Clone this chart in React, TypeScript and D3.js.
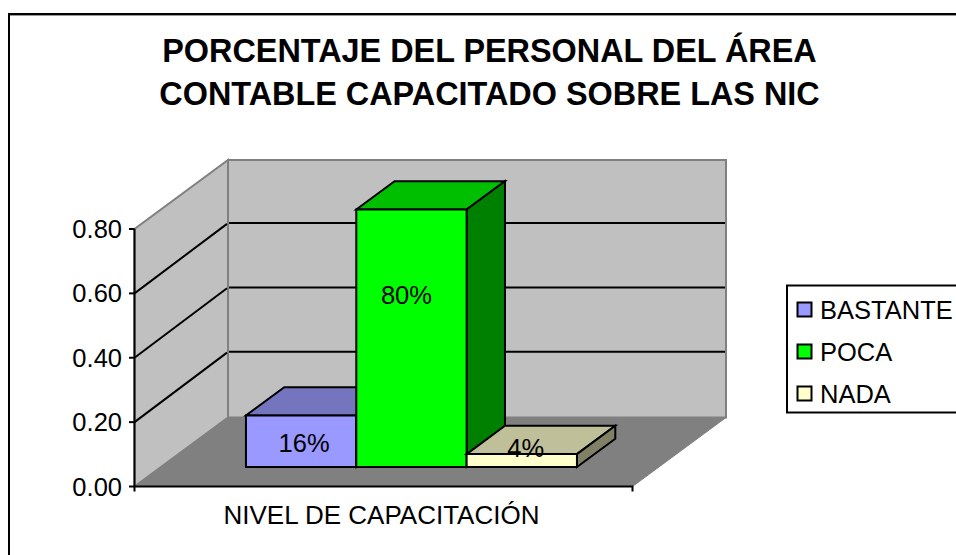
import React from "react";
import * as d3 from "d3";

const seriesNames = ["BASTANTE", "POCA", "NADA"];
const seriesValues = [0.16, 0.8, 0.04];
const valueLabels = ["16%", "80%", "4%"];
const yTicks = [0, 0.2, 0.4, 0.6, 0.8];
const titleLines = ["PORCENTAJE DEL PERSONAL DEL ÁREA", "CONTABLE CAPACITADO SOBRE LAS NIC"];
const categoryLabel = "NIVEL DE CAPACITACIÓN";
const frontColors = ["#9999FF", "#00FF00", "#FFFFCC"];
const topColors = ["#7575BF", "#00BF00", "#BFBF99"];
const sideColors = ["#4D4D80", "#008000", "#808066"];

const FONT = "'Liberation Sans', Arial, sans-serif";
const y = d3.scaleLinear().domain([0, 0.8]).range([486.5, 229]);
const plotX0 = 134.5, plotX1 = 632.5;
const depthX = 93.5, depthY = -69;
const barZ = 0.283, barDepth = 0.41;
const band = d3.scaleBand().domain(seriesNames).range([219.5, 550.5]);
const line = d3.line();
const proj = (x: number, v: number, z: number): [number, number] => [x + z * depthX, y(v) + z * depthY];
const poly = (pts: [number, number][]) => line(pts)! + "Z";
// label placement relative to the middle of each front face
const labelShift: [number, number][] = [[3, 2], [-5, -43], [4, -13]];

export default function App() {
  const v0 = 0, vTop = 0.8;
  const wallBack = poly([proj(plotX0, v0, 1), proj(plotX1, v0, 1), proj(plotX1, vTop, 1), proj(plotX0, vTop, 1)]);
  const wallSide = poly([proj(plotX0, v0, 0), proj(plotX0, v0, 1), proj(plotX0, vTop, 1), proj(plotX0, vTop, 0)]);
  const floor = poly([proj(plotX0, v0, 0), proj(plotX1, v0, 0), proj(plotX1, v0, 1), proj(plotX0, v0, 1)]);
  return (
    <svg width={956} height={555} style={{ position: "fixed", left: 0, top: 0, background: "#fff" }} fontFamily={FONT}>
      <path d="M956 15.5H9.5V555" fill="none" stroke="#999" strokeWidth={1} />
      <path d="M9 555V14H956" fill="none" stroke="#000" strokeWidth={2} />
      {titleLines.map((t, i) => (
        <text key={t} x={489.5} y={62 + i * 43} textAnchor="middle" fontSize={32.4} fontWeight="bold">{t}</text>
      ))}
      <path d={wallBack} fill="#C0C0C0" stroke="#808080" strokeWidth={2} />
      <path d={wallSide} fill="#C0C0C0" stroke="#808080" strokeWidth={2} />
      {yTicks.filter((t) => t > 0 && t < 0.8).map((t) => {
        const [bx, by] = proj(plotX0, t, 1);
        const [ex] = proj(plotX1, t, 1);
        return (
          <g key={t} fill="none" stroke="#000" strokeWidth={2}>
            <path d={line([proj(plotX0, t, 0), [bx - 1, by - 0.5]])!} />
            <path d={line([[bx + 1, by - 1.3], [ex - 1, by - 1.3]])!} />
          </g>
        );
      })}
      <path d={floor} fill="#808080" stroke="#808080" strokeWidth={1} />
      {seriesNames.map((name, i) => {
        const xL = band(name)!, xR = xL + band.bandwidth(), v = seriesValues[i];
        const a = proj(xL, 0, barZ), b = proj(xR, 0, barZ), c = proj(xR, v, barZ), d = proj(xL, v, barZ);
        const e = proj(xL, v, barZ + barDepth), f = proj(xR, v, barZ + barDepth), g = proj(xR, 0, barZ + barDepth);
        return (
          <g key={name} stroke="#000" strokeWidth={2} strokeLinejoin="miter">
            <path d={poly([d, c, f, e])} fill={topColors[i]} />
            <path d={poly([b, g, f, c])} fill={sideColors[i]} />
            <path d={poly([a, b, c, d])} fill={frontColors[i]} />
          </g>
        );
      })}
      {seriesNames.map((name, i) => {
        const xL = band(name)!, v = seriesValues[i];
        const p = proj(xL + band.bandwidth() / 2, v / 2, barZ);
        return (
          <text key={name} x={p[0] + labelShift[i][0]} y={p[1] + 9 + labelShift[i][1]} textAnchor="middle" fontSize={25.5}>{valueLabels[i]}</text>
        );
      })}
      <path d={`M134.5 ${y(0.8)}V${y(0) + 5}`} stroke="#000" strokeWidth={2} fill="none" />
      <path d={`M134.5 ${y(0)}H${plotX1}V${y(0) + 5}`} stroke="#000" strokeWidth={2} fill="none" />
      {yTicks.map((t) => (
        <g key={t}>
          <path d={`M129 ${y(t)}H134.5`} stroke="#000" strokeWidth={2} />
          <text x={122} y={y(t) + 9} textAnchor="end" fontSize={25.5}>{t.toFixed(2)}</text>
        </g>
      ))}
      <text x={381.5} y={524} textAnchor="middle" fontSize={26}>{categoryLabel}</text>
      <rect x={787} y={285.5} width={200} height={127} fill="#fff" stroke="#000" strokeWidth={2} />
      {seriesNames.map((name, i) => (
        <g key={name}>
          <rect x={797.5} y={302.5 + i * 42} width={14} height={14} fill={frontColors[i]} stroke="#000" strokeWidth={2} />
          <text x={820} y={318.5 + i * 42} fontSize={25.5}>{name}</text>
        </g>
      ))}
    </svg>
  );
}
